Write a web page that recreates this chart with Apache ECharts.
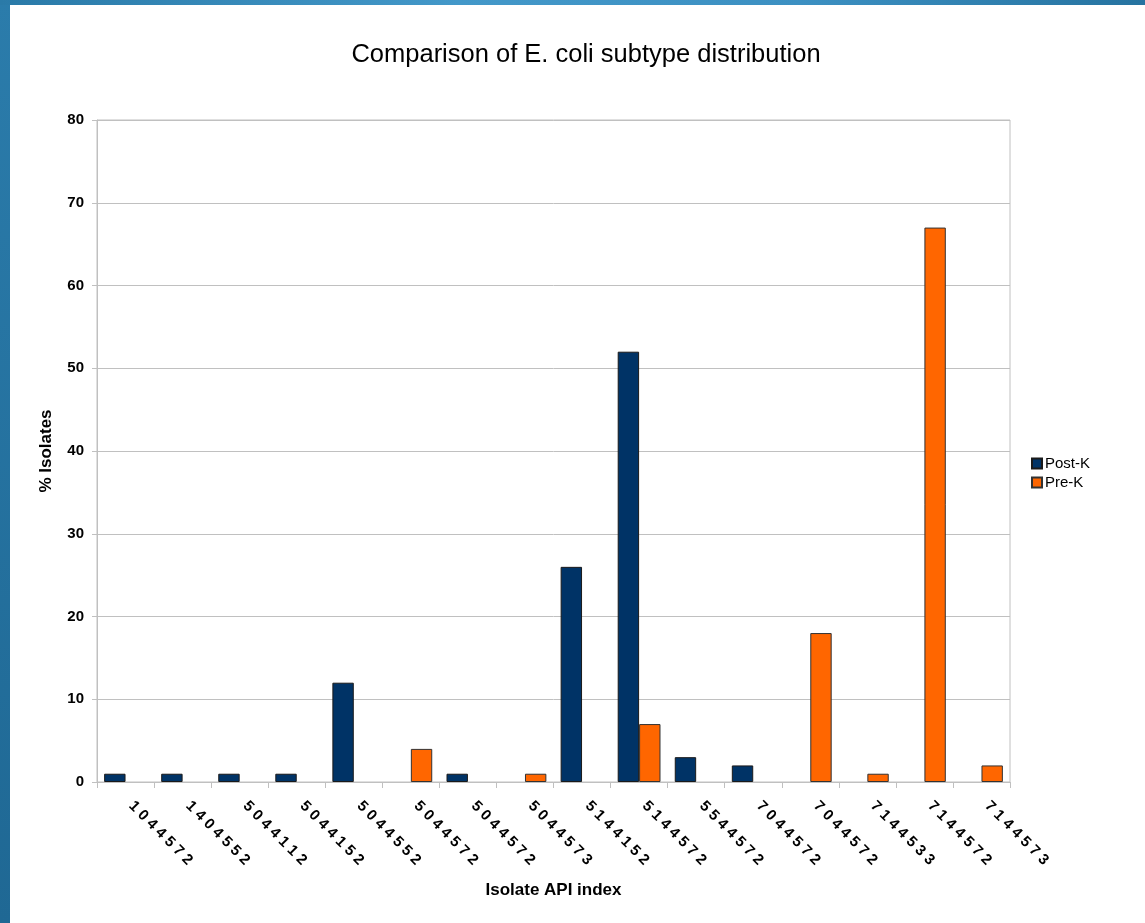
<!DOCTYPE html>
<html>
<head>
<meta charset="utf-8">
<script src="https://cdn.jsdelivr.net/npm/echarts@6/dist/echarts.min.js"></script>
<style>
  html, body { margin: 0; padding: 0; width: 1145px; height: 923px; overflow: hidden; }
  body { background: linear-gradient(180deg, #2b7cab 0%, #1f6894 100%); position: relative; }
  #topband { position: absolute; left: 0; top: 0; width: 1145px; height: 5px;
    background: linear-gradient(90deg, #2a7aa8 0%, #4398c9 40%, #3c90c2 70%, #2673a0 100%); }
  #chart { position: absolute; left: 10px; top: 5px; width: 1135px; height: 918px; background: #ffffff; }
</style>
</head>
<body>
<div id="topband"></div>
<div id="chart"></div>
<script>
const categories = ["1044572","1404552","5044112","5044152","5044552","5044572","5044572","5044573","5144152","5144572","5544572","7044572","7044572","7144533","7144572","7144573"];
const postK = [1, 1, 1, 1, 12, 0, 1, 0, 26, 52, 3, 2, 0, 0, 0, 0];
const preK  = [0, 0, 0, 0, 0, 4, 0, 1, 0, 7, 0, 0, 18, 1, 67, 2];
const yTicks = [0, 10, 20, 30, 40, 50, 60, 70, 80];

const chart = echarts.init(document.getElementById('chart'), null, { renderer: 'canvas' });
const toBar = arr => arr.map(v => v === 0 ? '-' : v);
const FONT = '"Liberation Sans", Arial, sans-serif';

chart.setOption({
  animation: false,
  textStyle: { fontFamily: FONT },
  title: {
    text: 'Comparison of E. coli subtype distribution',
    left: 571, top: 32, textAlign: 'center',
    textStyle: { fontSize: 25.5, fontWeight: 'normal', color: '#000', fontFamily: FONT }
  },
  legend: {
    orient: 'vertical',
    left: 1016, top: 446,
    itemWidth: 10, itemHeight: 10, itemGap: 4,
    icon: 'rect',
    textStyle: { fontSize: 15, color: '#000', fontFamily: FONT, padding: [0, 0, 0, -2] },
    data: ['Post-K', 'Pre-K']
  },
  grid: {
    left: 87, top: 115, right: 135, bottom: 141,
    show: true, borderColor: '#c0c0c0', borderWidth: 1, containLabel: false
  },
  xAxis: {
    type: 'category',
    data: categories,
    name: 'Isolate API index',
    nameLocation: 'middle',
    nameGap: 100,
    nameTextStyle: { fontSize: 17, fontWeight: 'bold', color: '#000', fontFamily: FONT },
    axisLine: { lineStyle: { color: '#c0c0c0' } },
    axisTick: { show: true, length: 6, lineStyle: { color: '#c0c0c0' }, alignWithLabel: false },
    axisLabel: {
      interval: 0, rotate: -45, margin: 16,
      fontSize: 15, fontWeight: 'bold', color: '#000', fontFamily: FONT,
      padding: [0, 0, 0, 8],
      formatter: v => v.split('').join(' ')
    },
    splitLine: { show: false }
  },
  yAxis: {
    type: 'value',
    min: yTicks[0], max: yTicks[yTicks.length - 1], interval: 10,
    name: '% Isolates',
    nameLocation: 'middle',
    nameGap: 42,
    nameTextStyle: { fontSize: 17, fontWeight: 'bold', color: '#000', fontFamily: FONT },
    axisLine: { show: true, lineStyle: { color: '#c0c0c0' } },
    axisTick: { show: true, length: 5, lineStyle: { color: '#c0c0c0' } },
    axisLabel: { fontSize: 15, fontWeight: 'bold', color: '#000', margin: 13, fontFamily: FONT },
    splitLine: { show: true, lineStyle: { color: '#c0c0c0', width: 1 } }
  },
  series: [
    {
      name: 'Post-K', type: 'bar', data: toBar(postK),
      barGap: '0%', barCategoryGap: '25%',
      itemStyle: { color: '#003366', borderColor: '#1a1a1a', borderWidth: 1 }
    },
    {
      name: 'Pre-K', type: 'bar', data: toBar(preK),
      itemStyle: { color: '#ff6600', borderColor: '#333333', borderWidth: 1 }
    }
  ]
});
</script>
</body>
</html>
